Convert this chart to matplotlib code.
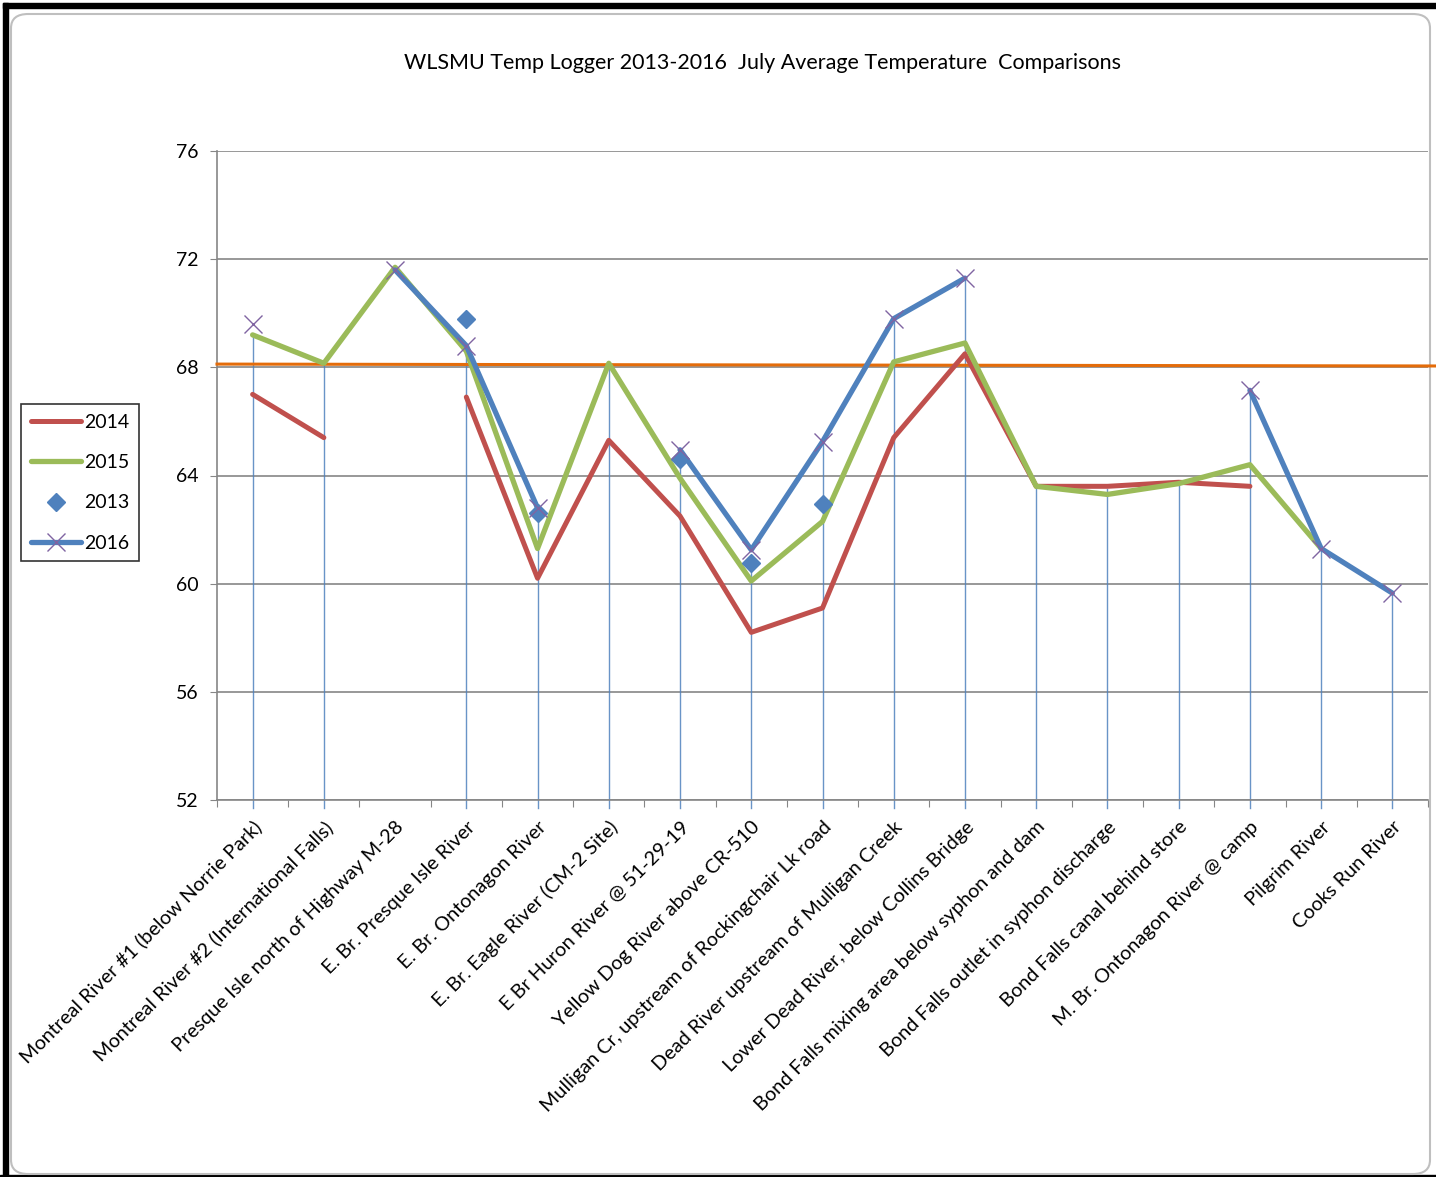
import matplotlib
matplotlib.use("Agg")
import matplotlib.pyplot as plt
from matplotlib.patches import Rectangle, FancyBboxPatch
import numpy as np

nan = np.nan

sites = [
    "Montreal River #1 (below Norrie Park)",
    "Montreal River #2 (International Falls)",
    "Presque Isle north of Highway M-28",
    "E. Br. Presque Isle River",
    "E. Br. Ontonagon River",
    "E. Br. Eagle River (CM-2 Site)",
    "E Br Huron River @ 51-29-19",
    "Yellow Dog River above CR-510",
    "Mulligan Cr, upstream of Rockingchair Lk road",
    "Dead River upstream of Mulligan Creek",
    "Lower Dead River, below Collins Bridge",
    "Bond Falls mixing area below syphon and dam",
    "Bond Falls outlet in syphon discharge",
    "Bond Falls canal behind store",
    "M. Br. Ontonagon River @ camp",
    "Pilgrim River",
    "Cooks Run River",
]

t2014 = [67.0, 65.4, nan, 66.9, 60.2, 65.3, 62.5, 58.2, 59.1, 65.4, 68.5,
         63.6, 63.6, 63.75, 63.6, nan, nan]
t2015 = [69.2, 68.15, 71.7, 68.6, 61.3, 68.15, 63.9, 60.1, 62.3, 68.2, 68.9,
         63.6, 63.3, 63.7, 64.4, 61.3, nan]
t2013 = [nan, nan, nan, 69.8, 62.6, nan, 64.6, 60.75, 62.95, nan, nan,
         nan, nan, nan, nan, nan, nan]
t2016 = [69.6, nan, 71.6, 68.8, 62.8, nan, 64.95, 61.25, 65.25, 69.8, 71.3,
         nan, nan, nan, 67.15, 61.3, 59.65]
# tops of the thin drop lines
drop_top = [69.2, 68.15, nan, 68.8, 62.6, 68.15, 64.6, 60.75, 65.2, 69.8, 71.3,
            63.65, 63.5, 63.6, 67.15, 61.3, 59.65]
# orange reference line (left end, right end)
ref_line = [68.12, 68.05]

plt.rcParams['font.family'] = ['Lato', 'DejaVu Sans']

W, H = 1436, 1177
fig = plt.figure(figsize=(W / 100, H / 100), dpi=100)

# sheet frame
fig.patches.append(Rectangle((3 / W, 1 - 8 / H), 1 - 3 / W, 5 / H, transform=fig.transFigure,
                             color='black', zorder=0))
fig.patches.append(Rectangle((3 / W, 0), 5 / W, 1 - 3 / H, transform=fig.transFigure,
                             color='black', zorder=0))
fig.patches.append(Rectangle((0, 0), 1, 2 / H, transform=fig.transFigure,
                             color='black', zorder=0))
fig.patches.append(FancyBboxPatch((11 / W, 3 / H), 1419 / W, 1160 / H,
                                  boxstyle="round,pad=0,rounding_size=0.012",
                                  transform=fig.transFigure, facecolor='none',
                                  edgecolor='#BFBFBF', lw=1.5, zorder=0))

ax = fig.add_axes([217 / W, 1 - 800 / H, 1211 / W, 649 / H])
ax.set_zorder(2)
ax.patch.set_alpha(0)
x = np.arange(len(sites))

ax.set_xlim(-0.5, len(sites) - 0.5)
ax.set_ylim(52, 76)
ax.set_yticks([52, 56, 60, 64, 68, 72, 76])
ax.yaxis.grid(True, color='#868686', lw=1.2)
ax.set_axisbelow(True)
for s in ['top', 'right']:
    ax.spines[s].set_visible(False)
for s in ['left', 'bottom']:
    ax.spines[s].set_color('#868686')
    ax.spines[s].set_linewidth(1.2)

ax.tick_params(axis='y', length=5, color='#868686', labelsize=14, pad=8.5)
ax.set_xticks(np.arange(-0.5, len(sites), 1.0))
ax.set_xticklabels([])
ax.tick_params(axis='x', which='major', length=5, color='#868686')
ax.set_xticks(x, minor=True)
ax.set_xticklabels(sites, minor=True, rotation=45, ha='right', va='top',
                   rotation_mode='anchor', fontsize=14.3)
ax.tick_params(axis='x', which='minor', length=0, pad=13)

# drop lines
for xi, top in zip(x, drop_top):
    if not np.isnan(top):
        ax.plot([xi, xi], [top, 51.7], color='#4F81BD', lw=1.0, alpha=0.85,
                clip_on=False, zorder=2)

# reference line
ax.plot([-0.5, 16.62], ref_line, color='#E46C0A', lw=2.2, clip_on=False, zorder=3)

l14, = ax.plot(x, t2014, color='#C0504D', lw=3.6, solid_capstyle='round', zorder=4, label='2014')
l15, = ax.plot(x, t2015, color='#9BBB59', lw=3.8, solid_capstyle='round', zorder=5, label='2015')
l13, = ax.plot(x, t2013, ls='none', marker='D', ms=9, color='#4F81BD', zorder=6, label='2013')
l16, = ax.plot(x, t2016, color='#4F81BD', lw=3.8, solid_capstyle='round', marker='x', ms=13,
               mec='#8064A2', mew=1.0, zorder=6, label='2016')

leg = fig.legend(handles=[l14, l15, l13, l16], loc='upper left',
                 bbox_to_anchor=(21 / W, 1 - 404 / H), fontsize=14, frameon=True,
                 fancybox=False, edgecolor='black', handlelength=2.6, handletextpad=0.15,
                 labelspacing=1.2, borderpad=0.5, borderaxespad=0)
leg.get_frame().set_linewidth(1.2)

fig.text(763 / W, 1 - 63 / H, "WLSMU Temp Logger 2013-2016  July Average Temperature  Comparisons",
         ha='center', va='center', fontsize=15.5)

fig.savefig("out.png", dpi=100)
